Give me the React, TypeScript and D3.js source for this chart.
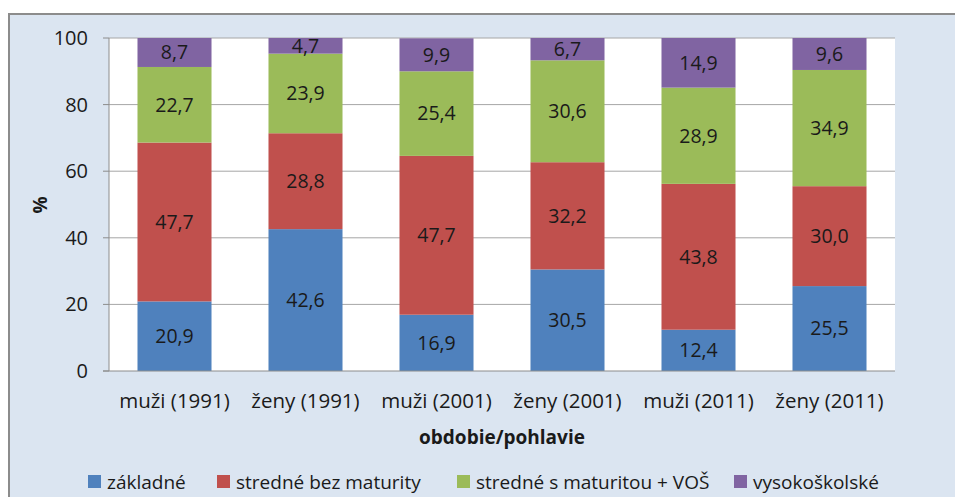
import React from "react";
import * as d3 from "d3";

const categories = ["muži (1991)", "ženy (1991)", "muži (2001)", "ženy (2001)", "muži (2011)", "ženy (2011)"];
const seriesNames = ["základné", "stredné bez maturity", "stredné s maturitou + VOŠ", "vysokoškolské"];
const zakladne = [20.9, 42.6, 16.9, 30.5, 12.4, 25.5];
const bezMaturity = [47.7, 28.8, 47.7, 32.2, 43.8, 30.0];
const sMaturitou = [22.7, 23.9, 25.4, 30.6, 28.9, 34.9];
const vysokoskolske = [8.7, 4.7, 9.9, 6.7, 14.9, 9.6];
const yTicks = [0, 20, 40, 60, 80, 100];
const colors = ["#4F81BD", "#C0504D", "#9BBB59", "#8064A2"];

const W = 955, H = 497;
const plot = { left: 109, right: 895, top: 38, bottom: 371 };
const font = "'Open Sans', 'Noto Sans', sans-serif";
const fs = 19.5;

export default function App() {
  const values = [zakladne, bezMaturity, sMaturitou, vysokoskolske];
  const rows = categories.map((c, i) => {
    const r: any = { cat: c };
    seriesNames.forEach((s, j) => (r[s] = values[j][i]));
    return r;
  });
  const stacked = d3.stack().keys(seriesNames)(rows);
  const x = d3.scaleBand().domain(categories).range([plot.left, plot.right]).paddingInner(0.435).paddingOuter(0.2175);
  const y = d3.scaleLinear().domain([0, 100]).range([plot.bottom, plot.top]);
  const fmt = (v: number) => v.toFixed(1).replace(".", ",");

  const legendX = [88, 217, 457, 734];

  return (
    <svg width={W} height={H} style={{ position: "absolute", left: 0, top: 0 }}>
      <rect x={9} y={14} width={W + 10} height={H} fill="#DBE5F1" stroke="#8C8C8C" strokeWidth={2} />
      <rect x={plot.left} y={plot.top} width={plot.right - plot.left} height={plot.bottom - plot.top} fill="#FFFFFF" />
      {yTicks.map((t) => (
        <g key={t}>
          {t > 0 && <line x1={plot.left} x2={plot.right} y1={y(t)} y2={y(t)} stroke="#A6A6A6" strokeWidth={1} />}
          <line x1={plot.left - 6} x2={plot.left} y1={y(t)} y2={y(t)} stroke="#8C8C8C" strokeWidth={1} />
          <text x={88} y={y(t)} dy="0.35em" textAnchor="end" fontFamily={font} fontSize={20} fill="#1a1a1a">{t}</text>
        </g>
      ))}
      {stacked.map((layer, j) => (
        <g key={j}>
          {layer.map((d, i) => (
            <g key={i}>
              <rect x={x(categories[i])!} width={x.bandwidth()} y={y(d[1])} height={y(d[0]) - y(d[1])} fill={colors[j]} />
              <text x={x(categories[i])! + x.bandwidth() / 2} y={(y(d[0]) + y(d[1])) / 2} dy="0.35em" textAnchor="middle" fontFamily={font} fontSize={fs} fill="#1a1a1a">{fmt(values[j][i])}</text>
            </g>
          ))}
        </g>
      ))}
      <line x1={plot.left} x2={plot.left} y1={plot.top} y2={plot.bottom} stroke="#8C8C8C" strokeWidth={1} />
      <line x1={plot.left - 6} x2={plot.right} y1={plot.bottom} y2={plot.bottom} stroke="#8C8C8C" strokeWidth={1} />
      {categories.map((c) => (
        <text key={c} x={x(c)! + x.bandwidth() / 2} y={401} dy="0.35em" textAnchor="middle" fontFamily={font} fontSize={20.5} fill="#1a1a1a">{c}</text>
      ))}
      <text x={502} y={437} dy="0.35em" textAnchor="middle" fontFamily={font} fontSize={19} fontWeight="bold" fill="#1a1a1a">obdobie/pohlavie</text>
      <text transform={`translate(40,205) rotate(-90)`} textAnchor="middle" dy="0.35em" fontFamily={font} fontSize={19} fontWeight="bold" fill="#1a1a1a">%</text>
      {seriesNames.map((s, j) => (
        <g key={s}>
          <rect x={legendX[j]} y={475} width={13} height={13} fill={colors[j]} />
          <text x={legendX[j] + 19} y={482} dy="0.35em" fontFamily={font} fontSize={19} fill="#1a1a1a">{s}</text>
        </g>
      ))}
    </svg>
  );
}
